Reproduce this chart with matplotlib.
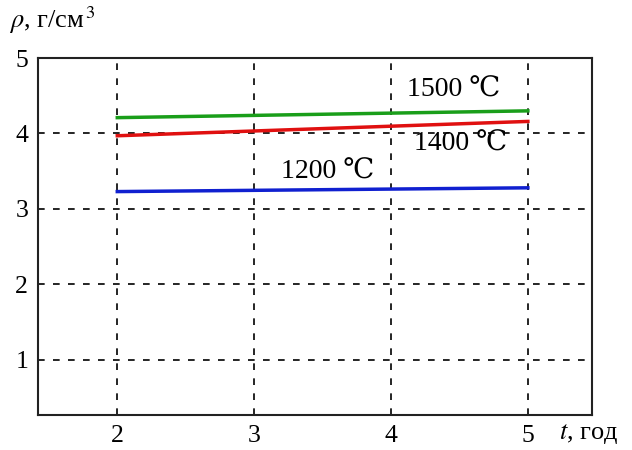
import matplotlib
matplotlib.use('Agg')
import matplotlib.pyplot as plt

plt.rcParams['font.family'] = ['Liberation Serif', 'DejaVu Serif']
plt.rcParams['mathtext.fontset'] = 'stix'

# время, годы
t = [2, 5]
# плотность, г/см3
rho1500 = [4.21, 4.30]
rho1400 = [3.97, 4.16]
rho1200 = [3.23, 3.28]

xticks = [2, 3, 4, 5]
yticks = [1, 2, 3, 4, 5]

fig = plt.figure(figsize=(6.32, 4.5), dpi=100)
ax = fig.add_axes([0.060, 0.078, 0.877, 0.793])

ax.plot(t, rho1500, color='#1a9e1a', lw=2.5)
ax.plot(t, rho1400, color='#e01010', lw=2.5)
ax.plot(t, rho1200, color='#1020d0', lw=2.5)

ax.set_xlim(1.42, 5.47)
ax.set_ylim(0.27, 5)
ax.set_xticks(xticks)
ax.set_yticks(yticks)
ax.tick_params(length=0, labelsize=18.5, pad=7)
ax.grid(True, color='black', linestyle=(0, (4, 5)), linewidth=1.2)
for s in ax.spines.values():
    s.set_linewidth(1.5)
    s.set_color('#222222')

# подписи температур
ax.text(4.46, 4.57, '1500 ℃', fontsize=20, ha='center', va='center')
ax.text(4.51, 3.86, '1400 ℃', fontsize=20, ha='center', va='center')
ax.text(3.54, 3.49, '1200 ℃', fontsize=20, ha='center', va='center')

fig.text(0.015, 0.955, r'$\rho$, г/см$^{\,3}$', fontsize=19, ha='left', va='center')
fig.text(0.885, 0.035, r'$t$, год', fontsize=19, ha='left', va='center')

plt.savefig('out.png', dpi=100)
